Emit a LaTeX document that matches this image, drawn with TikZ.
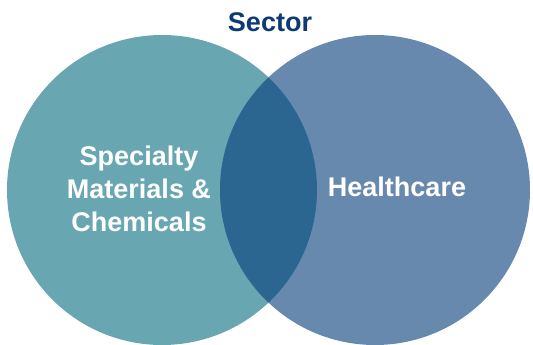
\documentclass[tikz,border=0pt]{standalone}
\usepackage{fontspec}
\setmainfont{Liberation Sans}
\definecolor{leftfill}{HTML}{68A6B1}
\definecolor{rightfill}{HTML}{6889AE}
\definecolor{overlapfill}{HTML}{2B6690}
\definecolor{titleblue}{HTML}{0B3B72}
\begin{document}
\begin{tikzpicture}[
			x=1pt, y=-1pt,
			set/.style={circle, minimum size=310pt, inner sep=0pt},
			label/.style={align=center, text=white, font=\bfseries\fontsize{27}{33}\selectfont},
			title/.style={text=titleblue, font=\bfseries\fontsize{27}{33}\selectfont}
		]
		\useasboundingbox (0,0) rectangle (533,345);

		% Sets
		\node[set, fill=leftfill] (smc) at (162,190) {};
		\node[set, fill=rightfill] (hc) at (375,190) {};

		% Overlap
		\begin{scope}
			\clip (smc.center) circle (155pt);
			\fill[overlapfill] (hc.center) circle (155pt);
		\end{scope}

		% Texts
		\node[title, anchor=base] (sector) at (270,32) {Sector};
		\node[label] (smctext) at (139,189) {Specialty\\Materials \&\\Chemicals};
		\node[label] (hctext) at (397,187) {Healthcare};

	\end{tikzpicture}
\end{document}
